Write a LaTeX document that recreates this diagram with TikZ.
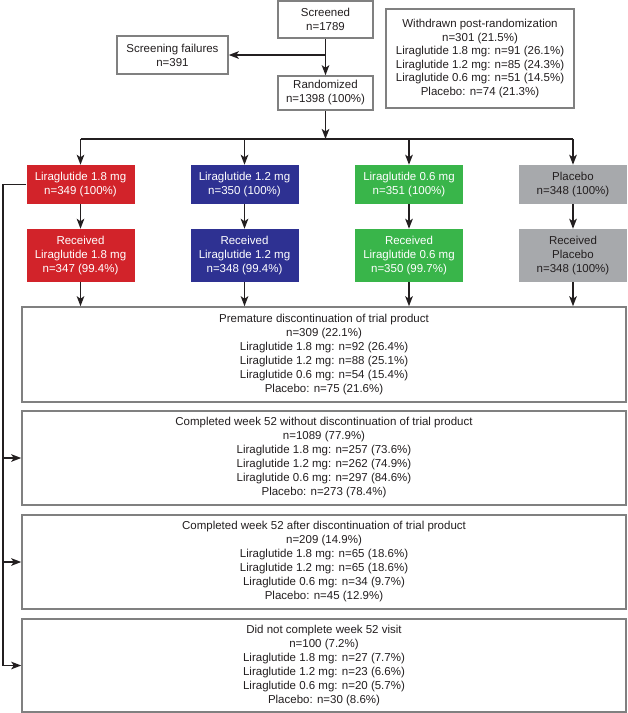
\documentclass[tikz,border=0pt]{standalone}
\usepackage{fontspec}
\setmainfont{Liberation Sans}
\usetikzlibrary{arrows.meta}
\definecolor{ctink}{HTML}{231F20}
\definecolor{ctedge}{HTML}{808080}
\definecolor{ctred}{HTML}{D2232A}
\definecolor{ctblue}{HTML}{2E3192}
\definecolor{ctgreen}{HTML}{39B54A}
\definecolor{ctgray}{HTML}{A7A9AC}
\tikzset{
  ct text/.style={font=\fontsize{11.5}{14}\selectfont, text=ctink},
  ct box/.style={draw=ctedge, line width=1.5pt, fill=white, align=center, inner sep=0pt},
  ct arm/.style={draw=none, minimum width=108pt, align=center, inner sep=0pt, text=white},
  ct wide/.style={ct box, minimum width=604pt},
  ct line/.style={line width=1.9pt, draw=ctink},
  ct arrow/.style={ct line, -{Stealth[length=10pt,width=7.5pt,inset=2.5pt]}}
}

\begin{document}
\begin{tikzpicture}[ct text, x=1pt, y=-1pt]
  \useasboundingbox (0,0) rectangle (628,713);
  % screening and randomization
  \node[ct box, minimum width=95pt, minimum height=37pt] (screened) at (325.5,19.5) {Screened\\n=1789};
  \node[ct box, minimum width=111pt, minimum height=38pt] (failures) at (172.5,55) {Screening failures\\n=391};
  \node[ct box, minimum width=95pt, minimum height=34pt] (randomized) at (325.5,93) {Randomized\\n=1398 (100\%)};
  \node[ct box, minimum width=188pt, minimum height=99pt, font=\fontsize{11.5}{13.6}\selectfont] (withdrawn) at (480,58.5)
    {Withdrawn post-randomization\\n=301 (21.5\%)\\Liraglutide 1.8 mg: n=91 (26.1\%)\\Liraglutide 1.2 mg: n=85 (24.3\%)\\Liraglutide 0.6 mg: n=51 (14.5\%)\\Placebo: n=74 (21.3\%)};
  % treatment arms
  \node[ct arm, fill=ctred, minimum height=39pt] (arm18) at (80.5,184.5) {Liraglutide 1.8 mg\\n=349 (100\%)};
  \node[ct arm, fill=ctblue, minimum height=39pt] (arm12) at (244.5,184.5) {Liraglutide 1.2 mg\\n=350 (100\%)};
  \node[ct arm, fill=ctgreen, minimum height=39pt] (arm06) at (409,184.5) {Liraglutide 0.6 mg\\n=351 (100\%)};
  \node[ct arm, fill=ctgray, text=ctink, minimum height=39pt] (armpb) at (573,184.5) {Placebo\\n=348 (100\%)};
  \node[ct arm, fill=ctred, minimum height=53pt] (got18) at (80.5,255.5) {Received\\Liraglutide 1.8 mg\\n=347 (99.4\%)};
  \node[ct arm, fill=ctblue, minimum height=53pt] (got12) at (244.5,255.5) {Received\\Liraglutide 1.2 mg\\n=348 (99.4\%)};
  \node[ct arm, fill=ctgreen, minimum height=53pt] (got06) at (409,255.5) {Received\\Liraglutide 0.6 mg\\n=350 (99.7\%)};
  \node[ct arm, fill=ctgray, text=ctink, minimum height=53pt] (gotpb) at (573,255.5) {Received\\Placebo\\n=348 (100\%)};
  % outcomes
  \node[ct wide, minimum height=95pt] (premature) at (324,354.5)
    {Premature discontinuation of trial product\\n=309 (22.1\%)\\Liraglutide 1.8 mg: n=92 (26.4\%)\\Liraglutide 1.2 mg: n=88 (25.1\%)\\Liraglutide 0.6 mg: n=54 (15.4\%)\\Placebo: n=75 (21.6\%)};
  \node[ct wide, minimum height=94pt] (without) at (324,458)
    {Completed week 52 without discontinuation of trial product\\n=1089 (77.9\%)\\Liraglutide 1.8 mg: n=257 (73.6\%)\\Liraglutide 1.2 mg: n=262 (74.9\%)\\Liraglutide 0.6 mg: n=297 (84.6\%)\\Placebo: n=273 (78.4\%)};
  \node[ct wide, minimum height=94pt] (after) at (324,562)
    {Completed week 52 after discontinuation of trial product\\n=209 (14.9\%)\\Liraglutide 1.8 mg: n=65 (18.6\%)\\Liraglutide 1.2 mg: n=65 (18.6\%)\\Liraglutide 0.6 mg: n=34 (9.7\%)\\Placebo: n=45 (12.9\%)};
  \node[ct wide, minimum height=93pt] (didnot) at (324,665.5)
    {Did not complete week 52 visit\\n=100 (7.2\%)\\Liraglutide 1.8 mg: n=27 (7.7\%)\\Liraglutide 1.2 mg: n=23 (6.6\%)\\Liraglutide 0.6 mg: n=20 (5.7\%)\\Placebo: n=30 (8.6\%)};
  % connectors
  \coordinate (split) at (325.5,139);
  \coordinate (rail) at (3,0);
  \draw[ct arrow] (screened) -- (randomized);
  \draw[ct arrow] (screened.south |- failures.east) -- (failures);
  \draw[ct arrow] (randomized) -- (split);
  \draw[ct line] (split -| arm18.north) -- (split -| armpb.north);
  \foreach \a in {18,12,06,pb} {
    \draw[ct arrow] (split -| arm\a.north) -- (arm\a);
    \draw[ct arrow] (arm\a) -- (got\a);
    \draw[ct arrow] (got\a) -- (got\a.south |- premature.north);
  }
  \draw[ct line] (arm18.west) -- (rail |- arm18.west) -- (rail |- didnot.west);
  \foreach \b in {without,after,didnot}
    \draw[ct arrow] (rail |- \b.west) -- (\b);
\end{tikzpicture}
\end{document}
